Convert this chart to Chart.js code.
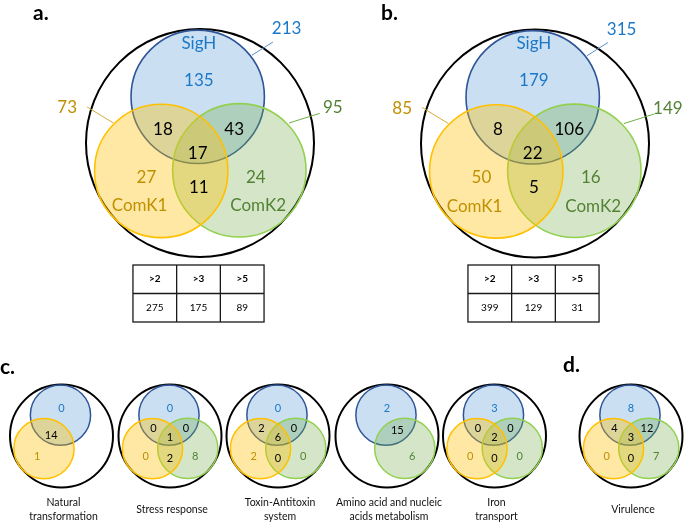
<!DOCTYPE html>
<html>
<head>
<meta charset="utf-8">
<script src="https://cdn.jsdelivr.net/npm/chart.js"></script>
<style>
html, body { margin: 0; padding: 0; background: #fff; }
#wrap { width: 685px; height: 522px; position: relative; }
</style>
</head>
<body>
<div id="wrap"><canvas id="venn"></canvas></div>
<script>
// region order: SigH only, ComK1 only, ComK2 only, SigH&ComK1, SigH&ComK2, all three, ComK1&ComK2
var regionKeys = ['s', 'k1', 'k2', 'sk1', 'sk2', 'all', 'k1k2'];
var setNames = ['SigH', 'ComK1', 'ComK2'];

var countsA = [135, 27, 24, 18, 43, 17, 11];
var countsB = [179, 50, 16, 8, 106, 22, 5];
var totalsA = [213, 73, 95];
var totalsB = [315, 85, 149];

var thresholds = ['>2', '>3', '>5'];
var tableA = [275, 175, 89];
var tableB = [399, 129, 31];

var categories = ['Natural\ntransformation', 'Stress response', 'Toxin-Antitoxin\nsystem',
  'Amino acid and nucleic\nacids metabolism', 'Iron\ntransport', 'Virulence'];
// null = set not shown in that diagram
var catCounts = [
  [0, 1, null, 14, null, null, null],
  [0, 0, 8, 0, 0, 1, 2],
  [0, 2, 0, 2, 0, 6, 0],
  [2, null, 6, null, 15, null, null],
  [3, 0, 0, 0, 0, 2, 0],
  [8, 0, 7, 4, 12, 3, 0]
];

// ---- layout (chart units == pixels) ----
var bigVenns = [{ cx: 200, cy: 143, R: 114 }, { cx: 535, cy: 143.5, R: 114 }];
var smallCx = [61.5, 170, 278, 387, 494.5, 631];
var smallCy = 436, smallR = 51.5;

var circleTpl = { s: [-0.02, -0.405], k1: [-0.34, 0.245], k2: [0.345, 0.24] };
var setR = 0.585;
var bigTextTpl = { s: [-0.01, -0.55], k1: [-0.47, 0.30], k2: [0.49, 0.30], sk1: [-0.325, -0.12],
  sk2: [0.30, -0.12], all: [-0.02, 0.09], k1k2: [-0.01, 0.39] };
var smallTextTpl = { s: [0, -0.53], k1: [-0.47, 0.39], k2: [0.49, 0.39], sk1: [-0.32, -0.14],
  sk2: [0.31, -0.14], all: [0, 0.03], k1k2: [0, 0.43] };
var twoSetTpl = { sk1: [-0.2, -0.02], sk2: [0.2, -0.1] };
var nameTpl = [[-0.01, -0.877], [-0.53, 0.55], [0.51, 0.55]];
var totalTpl = [[0.76, -1.0], [-1.165, -0.31], [1.165, -0.31]];
var leaderTpl = [[[0.64, -0.886], [0.456, -0.77]], [[-0.99, -0.316], [-0.76, -0.175]], [[1.05, -0.26], [0.78, -0.175]]];

var setFill = { s: 'rgba(91,155,213,0.32)', k1: 'rgba(255,192,0,0.36)', k2: 'rgba(112,173,71,0.30)' };
var setLine = { s: '#2f5597', k1: '#ffc000', k2: '#92d050' };
var setText = { s: '#1b78c9', k1: '#bf9000', k2: '#548235' };
var leaderCol = ['#5b8fc9', '#d4a934', '#70ad47'];
var FONT = 'Lato, "Open Sans", sans-serif';

// ---- build bubble datasets (r in chart units, which equal pixels here) ----
var outerPts = [], setPts = { s: [], k1: [], k2: [] };
function addVenn(cx, cy, R, present, big) {
  outerPts.push({ x: cx, y: cy, r: R, w: 2 });
  ['s', 'k1', 'k2'].forEach(function (k) {
    if (!present[k]) return;
    setPts[k].push({ x: cx + circleTpl[k][0] * R, y: cy + circleTpl[k][1] * R, r: setR * R, w: big ? 1.6 : 1.5 });
  });
}
bigVenns.forEach(function (v) { addVenn(v.cx, v.cy, v.R, { s: 1, k1: 1, k2: 1 }, true); });
catCounts.forEach(function (c, i) {
  addVenn(smallCx[i], smallCy, smallR, { s: c[0] !== null, k1: c[1] !== null, k2: c[2] !== null }, false);
});

function ds(pts, fill, line, order) {
  return {
    data: pts, order: order, clip: false,
    backgroundColor: fill, borderColor: line,
    borderWidth: function (c) { return c.raw ? c.raw.w : 1; },
    hoverRadius: 0
  };
}

// ---- text plugin ----
var textPlugin = {
  id: 'vennText',
  afterDatasetsDraw: function (chart) {
    var g = chart.ctx, X = chart.scales.x, Y = chart.scales.y;
    function px(x) { return X.getPixelForValue(x); }
    function py(y) { return Y.getPixelForValue(y); }
    function text(str, x, y, size, color, weight, align) {
      g.save();
      g.font = (weight || 'normal') + ' ' + size + 'px ' + FONT;
      g.fillStyle = color;
      g.textAlign = align || 'center';
      g.textBaseline = 'middle';
      g.fillText(str, px(x), py(y));
      g.restore();
    }
    function line(x1, y1, x2, y2, color, w) {
      g.save();
      g.strokeStyle = color; g.lineWidth = w;
      g.beginPath(); g.moveTo(px(x1), py(y1)); g.lineTo(px(x2), py(y2)); g.stroke();
      g.restore();
    }
    function regionColor(k) { return setText[k] || '#000'; }

    // big venns
    [[countsA, totalsA, tableA], [countsB, totalsB, tableB]].forEach(function (p, i) {
      var v = bigVenns[i];
      regionKeys.forEach(function (k, j) {
        var t = bigTextTpl[k];
        text(String(p[0][j]), v.cx + t[0] * v.R, v.cy + t[1] * v.R, 17, regionColor(k));
      });
      ['s', 'k1', 'k2'].forEach(function (k, j) {
        text(setNames[j], v.cx + nameTpl[j][0] * v.R, v.cy + nameTpl[j][1] * v.R, 17, setText[k]);
        text(String(p[1][j]), v.cx + totalTpl[j][0] * v.R, v.cy + totalTpl[j][1] * v.R, 17, setText[k]);
        var L = leaderTpl[j];
        line(v.cx + L[0][0] * v.R, v.cy + L[0][1] * v.R, v.cx + L[1][0] * v.R, v.cy + L[1][1] * v.R, leaderCol[j], 1);
      });
      // threshold table
      var colW = 43.7, rowH = 28.5, top = 265;
      var left = v.cx - 1.5 - colW * 1.5;
      g.save();
      g.strokeStyle = '#1a1a1a'; g.lineWidth = 1.3;
      g.strokeRect(px(left), py(top), px(left + colW * 3) - px(left), py(top + rowH * 2) - py(top));
      g.restore();
      line(left, top + rowH, left + colW * 3, top + rowH, '#1a1a1a', 1.3);
      for (var c = 1; c < 3; c++) line(left + colW * c, top, left + colW * c, top + rowH * 2, '#1a1a1a', 1.3);
      thresholds.forEach(function (th, c) {
        text(th, left + colW * (c + 0.5), top + rowH * 0.5, 10, '#000', 'bold');
        text(String(p[2][c]), left + colW * (c + 0.5), top + rowH * 1.5, 10, '#000');
      });
    });

    // small venns
    catCounts.forEach(function (cnt, i) {
      var cx = smallCx[i], cy = smallCy, R = smallR;
      var twoSet = cnt[1] === null || cnt[2] === null;
      regionKeys.forEach(function (k, j) {
        if (cnt[j] === null) return;
        var t = (twoSet && twoSetTpl[k]) || smallTextTpl[k];
        text(String(cnt[j]), cx + t[0] * R, cy + t[1] * R, 11, regionColor(k));
      });
      var lines = categories[i].split('\n');
      lines.forEach(function (ln, li) {
        var y = lines.length === 1 ? 510 : 503 + li * 14;
        text(ln, cx + 2, y, 10.5, '#111');
      });
    });

    // panel tags
    text('a.', 33, 13, 21, '#000', 'bold', 'left');
    text('b.', 381, 13, 21, '#000', 'bold', 'left');
    text('c.', 0, 367, 21, '#000', 'bold', 'left');
    text('d.', 563, 365, 21, '#000', 'bold', 'left');
  }
};

new Chart(document.getElementById('venn'), {
  type: 'bubble',
  data: {
    datasets: [
      ds(outerPts, 'rgba(0,0,0,0)', '#000', 4),
      ds(setPts.s, setFill.s, setLine.s, 3),
      ds(setPts.k2, setFill.k2, setLine.k2, 2),
      ds(setPts.k1, setFill.k1, setLine.k1, 1)
    ]
  },
  options: {
    responsive: true, maintainAspectRatio: false, animation: false,
    events: [],
    layout: { padding: 0, autoPadding: false },
    plugins: { legend: { display: false }, tooltip: { enabled: false } },
    scales: {
      x: { type: 'linear', min: 0, max: 685, display: false },
      y: { type: 'linear', min: 0, max: 522, reverse: true, display: false }
    }
  },
  plugins: [textPlugin]
});
</script>
</body>
</html>
